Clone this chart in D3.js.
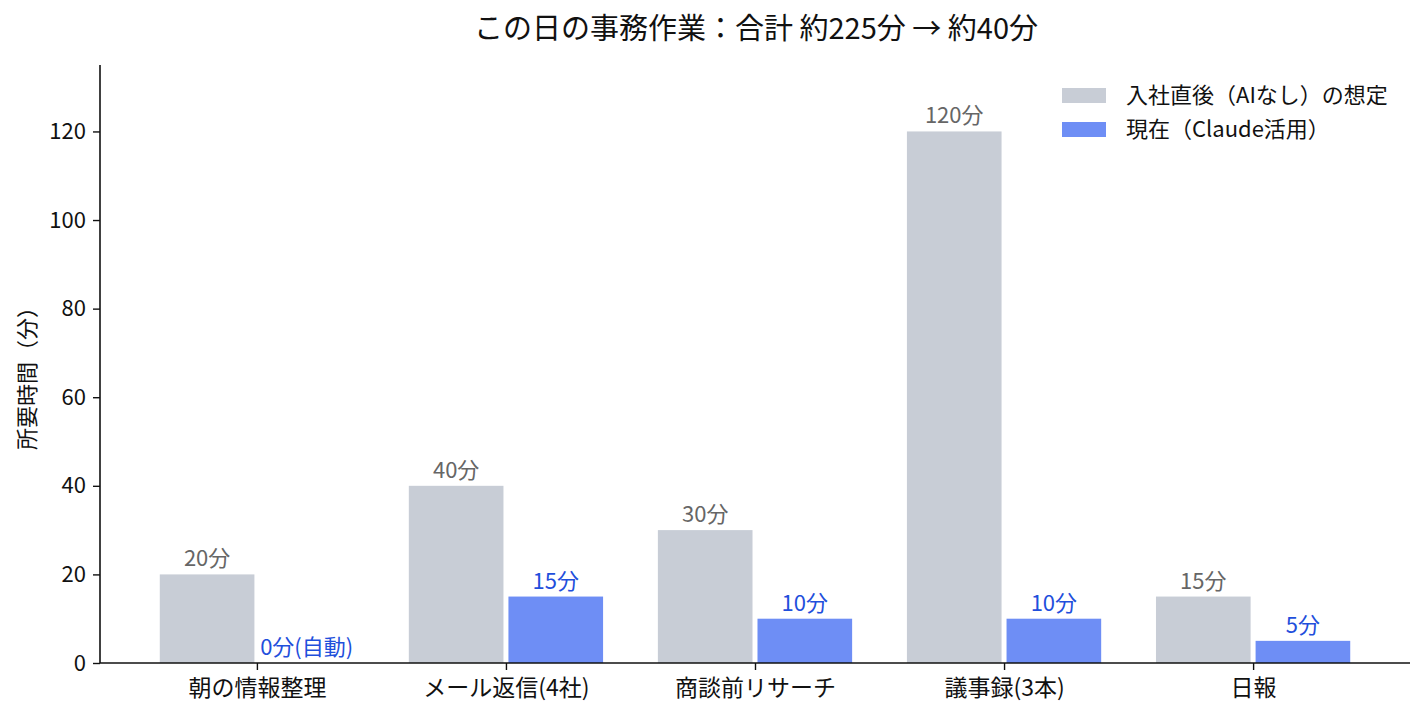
<!DOCTYPE html>
<html>
<head>
<meta charset="utf-8">
<script src="https://cdn.jsdelivr.net/npm/d3@7"></script>
<style>
  body { margin: 0; background: #fff; }
  svg { font-family: "Noto Sans CJK JP", "Noto Sans", sans-serif; }
</style>
</head>
<body>
<svg id="chart" width="1424" height="720"></svg>
<script>
"use strict"

// data
var categories = ["朝の情報整理", "メール返信(4社)", "商談前リサーチ", "議事録(3本)", "日報"];
var beforeValues = [20, 40, 30, 120, 15];
var afterValues = [0, 15, 10, 10, 5];
var afterLabels = ["0分(自動)", "15分", "10分", "10分", "5分"];
var yTicks = [0, 20, 40, 60, 80, 100, 120];
var seriesNames = ["入社直後（AIなし）の想定", "現在（Claude活用）"];

var colBefore = "#c8cdd6";
var colAfter = "#6e8ef5";
var txtBefore = "#666666";
var txtAfter = "#1f4fdc";

var svg = d3.select("#chart");
var mLeft = 100, mRight = 1410, mTop = 65, mBottom = 663;

var x = d3.scaleLinear().domain([-0.63, categories.length - 1 + 0.63]).range([mLeft, mRight]);
var y = d3.scaleLinear().domain([0, 135]).range([mBottom, mTop]);
var bw = 0.38, off = 0.2;

// title
svg.append("text")
	.attr("x", (mLeft + mRight) / 2 + 1).attr("y", 39)
	.attr("text-anchor", "middle")
	.attr("font-size", 29)
	.attr("fill", "#111")
	.text("この日の事務作業：合計 約225分 → 約40分");

// bars
var g = svg.append("g");
g.selectAll("rect.before").data(beforeValues).enter().append("rect")
	.attr("x", function(d, i) { return x(i - off - bw / 2); })
	.attr("width", function() { return x(bw) - x(0); })
	.attr("y", function(d) { return y(d); })
	.attr("height", function(d) { return y(0) - y(d); })
	.attr("fill", colBefore);
g.selectAll("rect.after").data(afterValues).enter().append("rect")
	.attr("x", function(d, i) { return x(i + off - bw / 2); })
	.attr("width", function() { return x(bw) - x(0); })
	.attr("y", function(d) { return y(d); })
	.attr("height", function(d) { return y(0) - y(d); })
	.attr("fill", colAfter);

// value labels
g.selectAll("text.before").data(beforeValues).enter().append("text")
	.attr("x", function(d, i) { return x(i - off); })
	.attr("y", function(d) { return y(d) - 8; })
	.attr("text-anchor", "middle")
	.attr("font-size", 22)
	.attr("fill", txtBefore)
	.text(function(d) { return d + "分"; });
g.selectAll("text.after").data(afterValues).enter().append("text")
	.attr("x", function(d, i) { return x(i + off); })
	.attr("y", function(d) { return y(d) - 8; })
	.attr("text-anchor", "middle")
	.attr("font-size", 22)
	.attr("fill", txtAfter)
	.text(function(d, i) { return afterLabels[i]; });

// axes
var yAxis = svg.append("g")
	.attr("transform", "translate(" + mLeft + ",0)")
	.call(d3.axisLeft(y).tickValues(yTicks).tickSize(7).tickPadding(7));
var xAxis = svg.append("g")
	.attr("transform", "translate(0," + mBottom + ")")
	.call(d3.axisBottom(x).tickValues(d3.range(categories.length))
		.tickFormat(function(i) { return categories[i]; }).tickSize(7).tickPadding(6));
[yAxis, xAxis].forEach(function(a) {
	a.select(".domain").attr("stroke", "#111").attr("stroke-width", 1.6)
		.attr("d", a === yAxis ? "M0," + mBottom + "V" + mTop : "M" + mLeft + ",0H" + mRight);
	a.selectAll(".tick line").attr("stroke", "#111").attr("stroke-width", 1.4);
	a.selectAll(".tick text").attr("font-size", 22).attr("fill", "#111")
		.attr("font-family", "'Noto Sans CJK JP', sans-serif");
});
xAxis.selectAll(".tick text").attr("font-size", 23).attr("dy", "0.85em");

// y label
svg.append("text")
	.attr("transform", "translate(35," + ((mTop + mBottom) / 2 + 9) + ") rotate(-90)")
	.attr("text-anchor", "middle")
	.attr("font-size", 22)
	.attr("fill", "#111")
	.text("所要時間（分）");

// legend
var legend = svg.append("g").attr("transform", "translate(1062,88)");
[colBefore, colAfter].forEach(function(c, i) {
	legend.append("rect").attr("x", 0).attr("y", i * 34).attr("width", 44).attr("height", 15).attr("fill", c);
	legend.append("text").attr("x", 64).attr("y", i * 34 + 15)
		.attr("font-size", 22).attr("fill", "#111").text(seriesNames[i]);
});
</script>
</body>
</html>
